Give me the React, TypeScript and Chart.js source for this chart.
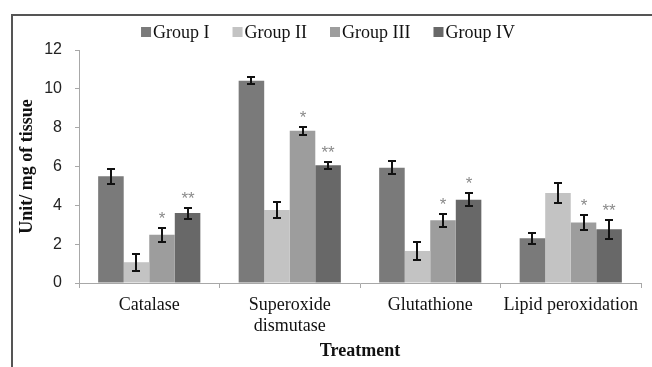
import React, { useEffect, useRef } from 'react';
import { Chart, registerables } from 'chart.js';

Chart.register(...registerables);

const categories: (string | string[])[] = ['Catalase', ['Superoxide', 'dismutase'], 'Glutathione', 'Lipid peroxidation'];
const groupNames = ['Group I', 'Group II', 'Group III', 'Group IV'];
const groupColors = ['#7a7a7a', '#c3c3c3', '#9d9d9d', '#686868'];

const groupI = [5.5, 10.42, 5.94, 2.3];
const groupII = [1.07, 3.76, 1.65, 4.63];
const groupIII = [2.48, 7.84, 3.23, 3.12];
const groupIV = [3.6, 6.06, 4.29, 2.77];

const errI = [0.39, 0.18, 0.33, 0.27];
const errII = [0.43, 0.4, 0.46, 0.52];
const errIII = [0.36, 0.2, 0.34, 0.39];
const errIV = [0.28, 0.18, 0.33, 0.48];

const sigI = ['', '', '', ''];
const sigII = ['', '', '', ''];
const sigIII = ['*', '*', '*', '*'];
const sigIV = ['**', '**', '*', '**'];

const yMin = 0;
const yMax = 12;
const yStep = 2;

const yTitle = 'Unit/ mg of tissue';
const xTitle = 'Treatment';

const SERIF = '"Liberation Serif", "Times New Roman", serif';
const SANS = '"Liberation Sans", Arial, sans-serif';

const errorBarPlugin = {
  id: 'errorBars',
  afterDatasetsDraw(chart: any) {
    const ctx = chart.ctx;
    const y = chart.scales.y;
    chart.data.datasets.forEach((ds: any, i: number) => {
      const meta = chart.getDatasetMeta(i);
      meta.data.forEach((bar: any, j: number) => {
        const v = ds.data[j];
        const e = ds.errors[j];
        const top = Math.round(y.getPixelForValue(v + e));
        const bot = Math.round(y.getPixelForValue(v - e));
        const x = Math.round(bar.x);
        ctx.save();
        ctx.strokeStyle = '#111';
        ctx.lineWidth = 2;
        ctx.beginPath();
        ctx.moveTo(x, top);
        ctx.lineTo(x, bot);
        ctx.moveTo(x - 4, top);
        ctx.lineTo(x + 4, top);
        ctx.moveTo(x - 4, bot);
        ctx.lineTo(x + 4, bot);
        ctx.stroke();
        const s = ds.sig[j];
        if (s) {
          ctx.fillStyle = '#8a8a8a';
          ctx.font = '17px ' + SANS;
          ctx.textAlign = 'center';
          ctx.textBaseline = 'alphabetic';
          ctx.fillText(s, x, top - 4);
        }
        ctx.restore();
      });
    });
  },
};

const legendPlugin = {
  id: 'customLegend',
  afterDraw(chart: any) {
    const ctx = chart.ctx;
    ctx.save();
    ctx.font = '18px ' + SERIF;
    const box = 10;
    const gap = 2;
    const spacing = 23;
    const widths = chart.data.datasets.map((ds: any) => box + gap + ctx.measureText(ds.label).width);
    const total = widths.reduce((a: number, b: number) => a + b, 0) + spacing * (widths.length - 1);
    let x = 320 - total / 2;
    const cy = 17;
    chart.data.datasets.forEach((ds: any, i: number) => {
      ctx.fillStyle = ds.backgroundColor;
      ctx.fillRect(x, cy - 5, box, box);
      ctx.fillStyle = '#111';
      ctx.textAlign = 'left';
      ctx.textBaseline = 'middle';
      ctx.fillText(ds.label, x + box + gap, cy + 1);
      x += widths[i] + spacing;
    });
    ctx.restore();
  },
};

export default function App() {
  const ref = useRef<HTMLCanvasElement | null>(null);

  useEffect(() => {
    if (!ref.current) return;
    const values = [groupI, groupII, groupIII, groupIV];
    const errs = [errI, errII, errIII, errIV];
    const sigs = [sigI, sigII, sigIII, sigIV];
    const chart = new Chart(ref.current, {
      type: 'bar',
      data: {
        labels: categories as any,
        datasets: groupNames.map((name, i) => ({
          label: name,
          data: values[i],
          errors: errs[i],
          sig: sigs[i],
          backgroundColor: groupColors[i],
          borderWidth: 0,
          categoryPercentage: 4 / 5.5,
          barPercentage: 1,
        })) as any,
      },
      options: {
        animation: false,
        responsive: false,
        devicePixelRatio: 1,
        layout: { padding: { left: 7, right: 11, top: 35, bottom: 0 } },
        plugins: {
          legend: { display: false },
          tooltip: { enabled: false },
        },
        scales: {
          x: {
            grid: {
              offset: true,
              drawOnChartArea: false,
              drawTicks: true,
              tickLength: 5,
              color: '#a8a8a8',
            },
            border: { color: '#a8a8a8', width: 1 },
            ticks: {
              color: '#111',
              font: { family: SERIF, size: 18 },
              padding: 6,
              maxRotation: 0,
              autoSkip: false,
            },
            title: {
              display: true,
              text: xTitle,
              color: '#111',
              font: { family: SERIF, size: 18, weight: 'bold' },
              padding: { top: 2, bottom: 5 },
            },
            afterFit: (scale: any) => {
              scale.height = 84;
            },
          },
          y: {
            min: yMin,
            max: yMax,
            grid: {
              drawOnChartArea: false,
              drawTicks: true,
              tickLength: 4,
              color: '#a8a8a8',
            },
            border: { color: '#a8a8a8', width: 1 },
            ticks: {
              stepSize: yStep,
              color: '#222',
              font: { family: SANS, size: 16 },
              padding: 13,
            },
            title: {
              display: true,
              text: yTitle,
              color: '#111',
              font: { family: SERIF, size: 18, weight: 'bold' },
              padding: { top: 2, bottom: 0 },
            },
            afterFit: (scale: any) => {
              scale.width = 64;
            },
          },
        },
      },
      plugins: [errorBarPlugin, legendPlugin],
    });
    return () => chart.destroy();
  }, []);

  return (
    <div style={{ position: 'fixed', left: 0, top: 0, width: 652, height: 367, overflow: 'hidden', background: '#fff' }}>
      <div
        style={{
          position: 'absolute',
          left: 11,
          top: 14,
          width: 800,
          height: 500,
          border: '2px solid #555',
          boxSizing: 'border-box',
        }}
      />
      <canvas
        ref={ref}
        width={644}
        height={352}
        style={{ position: 'absolute', left: 8, top: 15, width: 644, height: 352 }}
      />
    </div>
  );
}
